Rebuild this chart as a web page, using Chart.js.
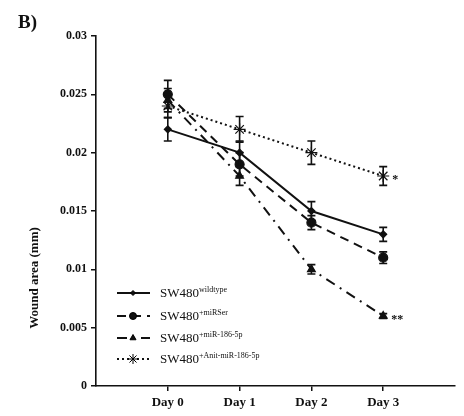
<!DOCTYPE html>
<html>
<head>
<meta charset="utf-8">
<script src="https://cdn.jsdelivr.net/npm/chart.js@4"></script>
<style>
  html, body { margin: 0; padding: 0; background: #fff; }
  #wrap { position: relative; width: 464px; height: 416px; }
</style>
</head>
<body>
<div id="wrap"><canvas id="woundChart" width="464" height="416"></canvas></div>
<script>
// data
const days = ['Day 0', 'Day 1', 'Day 2', 'Day 3'];
const yTicks = [0, 0.005, 0.01, 0.015, 0.02, 0.025, 0.03];

const wildtype = [0.022, 0.020, 0.015, 0.013];
const wildtypeErr = [0.001, 0.001, 0.0008, 0.0006];

const miRSer = [0.025, 0.019, 0.014, 0.011];
const miRSerErr = [0.0012, 0.001, 0.0006, 0.0005];

const miR186 = [0.0245, 0.018, 0.010, 0.006];
const miR186Err = [0.001, 0.0008, 0.0004, 0.0002];

const antiMiR186 = [0.024, 0.022, 0.020, 0.018];
const antiMiR186Err = [0.001, 0.0011, 0.001, 0.0008];

const legendNames = ['wildtype', '+miRSer', '+miR-186-5p', '+Anit-miR-186-5p'];

const serif = '"Liberation Serif", "Times New Roman", serif';

function toPoints(arr) {
    return arr.map((v, i) => ({ x: i + 1, y: v }));
}

// error bars, drawn through the chart scales
const errorBars = {
    id: 'errorBars',
    afterDatasetsDraw(chart) {
        const ctx = chart.ctx;
        const xs = chart.scales.x, ys = chart.scales.y;
        ctx.save();
        ctx.strokeStyle = '#111';
        ctx.lineWidth = 1.6;
        chart.data.datasets.forEach(ds => {
            ds.errors.forEach((e, i) => {
                const px = xs.getPixelForValue(i + 1);
                const top = ys.getPixelForValue(ds.data[i].y + e);
                const bot = ys.getPixelForValue(ds.data[i].y - e);
                ctx.beginPath();
                ctx.moveTo(px, top); ctx.lineTo(px, bot);
                ctx.moveTo(px - 4, top); ctx.lineTo(px + 4, top);
                ctx.moveTo(px - 4, bot); ctx.lineTo(px + 4, bot);
                ctx.stroke();
            });
        });
        ctx.restore();
    }
};

// significance stars, legend, panel letter, y title
const extras = {
    id: 'extras',
    afterDraw(chart) {
        const ctx = chart.ctx;
        const xs = chart.scales.x, ys = chart.scales.y;
        ctx.save();
        ctx.fillStyle = '#111';

        // stars next to Day 3
        ctx.font = 'bold 12px ' + serif;
        ctx.textBaseline = 'middle';
        ctx.textAlign = 'left';
        ctx.fillText('*', xs.getPixelForValue(4) + 9, ys.getPixelForValue(antiMiR186[3]) + 4);
        ctx.fillText('**', xs.getPixelForValue(4) + 8, ys.getPixelForValue(miR186[3]) + 4);

        // panel letter
        ctx.font = 'bold 19px ' + serif;
        ctx.textBaseline = 'alphabetic';
        ctx.fillText('B)', 18, 28);

        // y axis title (sits low in the original)
        ctx.save();
        ctx.translate(35, 278);
        ctx.rotate(-Math.PI / 2);
        ctx.font = 'bold 13px ' + serif;
        ctx.textAlign = 'center';
        ctx.textBaseline = 'middle';
        ctx.fillText('Wound area (mm)', 0, 0);
        ctx.restore();

        // legend
        const ds = chart.data.datasets;
        const rowsY = [293, 316, 338, 359];
        ds.forEach((d, i) => {
            const y = rowsY[i];
            ctx.save();
            ctx.strokeStyle = '#111';
            ctx.lineWidth = d.borderWidth;
            ctx.setLineDash(d.borderDash || []);
            ctx.beginPath();
            ctx.moveTo(117, y); ctx.lineTo(150, y);
            ctx.stroke();
            ctx.restore();
            Chart.helpers.drawPoint(ctx, {
                pointStyle: d.pointStyle, radius: d.pointRadius - 1, borderWidth: 1.2
            }, 133, y);
            ctx.font = '13px ' + serif;
            ctx.textAlign = 'left';
            ctx.textBaseline = 'middle';
            ctx.fillText('SW480', 160, y + 1);
            const w = ctx.measureText('SW480').width;
            ctx.font = '8px ' + serif;
            ctx.fillText(legendNames[i], 160 + w, y - 3);
        });
        ctx.restore();
    }
};

function series(label, values, errs, style, radius, dash, width) {
    return {
        label: label,
        data: toPoints(values),
        errors: errs,
        borderColor: '#111',
        backgroundColor: '#111',
        pointBackgroundColor: '#111',
        pointBorderColor: '#111',
        pointStyle: style,
        pointRadius: radius,
        pointBorderWidth: 1.2,
        borderWidth: width,
        borderDash: dash,
        tension: 0
    };
}

new Chart(document.getElementById('woundChart'), {
    type: 'line',
    data: {
        datasets: [
            series('SW480 wildtype', wildtype, wildtypeErr, 'rectRot', 3.5, [], 2),
            series('SW480 +miRSer', miRSer, miRSerErr, 'circle', 4.5, [9, 6], 2),
            series('SW480 +miR-186-5p', miR186, miR186Err, 'triangle', 4.5, [10, 6, 2, 6], 2),
            series('SW480 +Anit-miR-186-5p', antiMiR186, antiMiR186Err, 'star', 6, [2, 3], 2)
        ]
    },
    options: {
        responsive: false,
        animation: false,
        layout: { padding: { left: 0, top: 36, right: 9, bottom: 0 } },
        plugins: { legend: { display: false }, tooltip: { enabled: false } },
        scales: {
            x: {
                type: 'linear',
                min: 0, max: 5,
                afterBuildTicks: s => { s.ticks = days.map((d, i) => ({ value: i + 1 })); },
                afterFit: s => { s.height = 30; },
                ticks: {
                    callback: v => days[v - 1] || '',
                    color: '#111',
                    font: { family: serif, size: 13, weight: 'bold' },
                    padding: 4,
                    maxRotation: 0,
                    autoSkip: false
                },
                grid: { drawOnChartArea: false, drawTicks: true, tickLength: 5, color: '#111', lineWidth: 1.5 },
                border: { display: true, color: '#111', width: 1.6 }
            },
            y: {
                min: 0, max: 0.03,
                afterBuildTicks: s => { s.ticks = yTicks.map(v => ({ value: v })); },
                afterFit: s => { s.width = 96; },
                ticks: {
                    callback: v => String(+v.toFixed(3)),
                    color: '#111',
                    font: { family: serif, size: 12, weight: 'bold' },
                    padding: 4
                },
                grid: { drawOnChartArea: false, drawTicks: true, tickLength: 5, color: '#111', lineWidth: 1.5 },
                border: { display: true, color: '#111', width: 1.6 }
            }
        }
    },
    plugins: [errorBars, extras]
});
</script>
</body>
</html>
